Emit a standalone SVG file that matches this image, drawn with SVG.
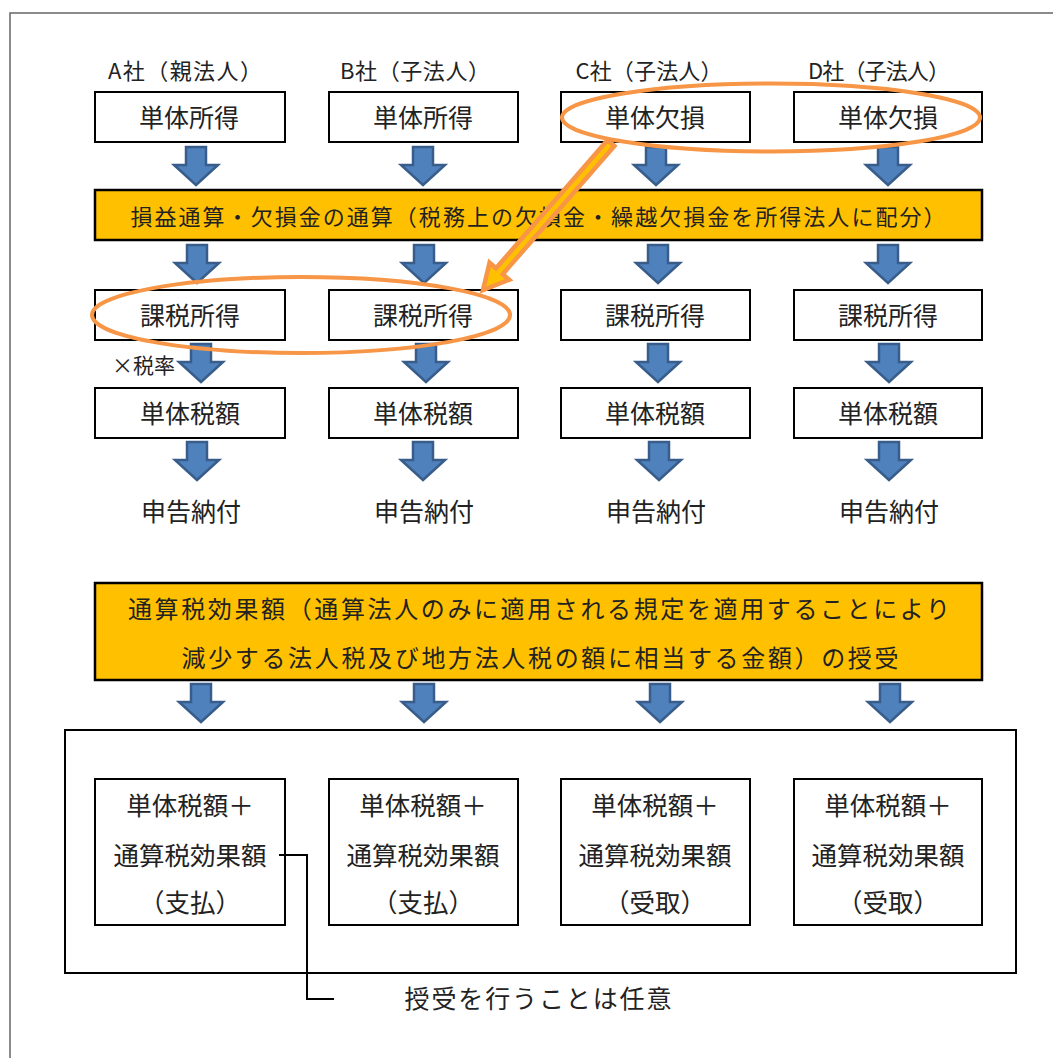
<svg xmlns="http://www.w3.org/2000/svg" xmlns:xlink="http://www.w3.org/1999/xlink" width="1053" height="1058" viewBox="0 0 1053 1058">
<style>
text{font-family:"Noto Sans CJK JP","Noto Sans",sans-serif;fill:#222;dominant-baseline:central;text-anchor:middle}
.box{fill:#fff;stroke:#000;stroke-width:2}
.bar{fill:#ffc000;stroke:#000;stroke-width:2.5}
.arr{fill:#4f81bd;stroke:#385d8a;stroke-width:2.5;stroke-linejoin:miter}
.ring{fill:none;stroke:#f79646;stroke-width:4}
.lbl{font-size:22px}
.bt{font-size:25px}
.lt{font-size:25.5px}
</style>
<defs>
<path id="arr" d="M-10,0 h20 v18 h12 l-22,20 l-22,-20 h12 z"/>
</defs>
<rect width="1053" height="1058" fill="#fff"/>
<path d="M10,1058 V13 H1053" fill="none" stroke="#666" stroke-width="1.5"/>

<g id="labels">
<text class="lbl" x="185" y="69" textLength="154" lengthAdjust="spacing">A社（親法人）</text>
<text class="lbl" x="415" y="69" textLength="150" lengthAdjust="spacing">B社（子法人）</text>
<text class="lbl" x="649" y="69" textLength="147" lengthAdjust="spacing">C社（子法人）</text>
<text class="lbl" x="879" y="69" textLength="142" lengthAdjust="spacing">D社（子法人）</text>
</g>

<g id="nodeA1"><rect class="box" x="95" y="92" width="190" height="50"/><text class="bt" x="189" y="116">単体所得</text></g>
<g id="nodeB1"><rect class="box" x="329" y="92" width="189" height="50"/><text class="bt" x="423" y="116">単体所得</text></g>
<g id="nodeC1"><rect class="box" x="561" y="92" width="189" height="50"/><text class="bt" x="655" y="116">単体欠損</text></g>
<g id="nodeD1"><rect class="box" x="794" y="92" width="188" height="50"/><text class="bt" x="888" y="116">単体欠損</text></g>

<g id="bar1"><rect class="bar" x="95" y="190" width="887" height="50"/><text style="font-size:22px" x="538" y="215" textLength="815" lengthAdjust="spacing">損益通算・欠損金の通算（税務上の欠損金・繰越欠損金を所得法人に配分）</text></g>

<g id="nodeA2"><rect class="box" x="95" y="290" width="190" height="50"/><text class="bt" x="190" y="314">課税所得</text></g>
<g id="nodeB2"><rect class="box" x="329" y="290" width="189" height="50"/><text class="bt" x="423" y="314">課税所得</text></g>
<g id="nodeC2"><rect class="box" x="561" y="290" width="189" height="50"/><text class="bt" x="655" y="314">課税所得</text></g>
<g id="nodeD2"><rect class="box" x="794" y="290" width="188" height="50"/><text class="bt" x="888" y="314">課税所得</text></g>

<g id="nodeA3"><rect class="box" x="95" y="388" width="190" height="50"/><text class="bt" x="190" y="412">単体税額</text></g>
<g id="nodeB3"><rect class="box" x="329" y="388" width="189" height="50"/><text class="bt" x="423" y="412">単体税額</text></g>
<g id="nodeC3"><rect class="box" x="561" y="388" width="189" height="50"/><text class="bt" x="655" y="412">単体税額</text></g>
<g id="nodeD3"><rect class="box" x="794" y="388" width="188" height="50"/><text class="bt" x="888" y="412">単体税額</text></g>

<g id="nodeA4"><text class="bt" x="191" y="510">申告納付</text></g>
<g id="nodeB4"><text class="bt" x="424" y="510">申告納付</text></g>
<g id="nodeC4"><text class="bt" x="656" y="510">申告納付</text></g>
<g id="nodeD4"><text class="bt" x="889" y="510">申告納付</text></g>

<g id="bar2"><rect class="bar" x="95" y="583" width="887" height="97"/>
<text style="font-size:24px" x="539" y="607" textLength="822" lengthAdjust="spacing">通算税効果額（通算法人のみに適用される規定を適用することにより</text>
<text style="font-size:24px" x="540" y="656" textLength="717" lengthAdjust="spacing">減少する法人税及び地方法人税の額に相当する金額）の授受</text>
</g>

<g id="container"><rect class="box" x="65" y="730" width="951" height="243"/></g>

<g id="nodeA5"><rect class="box" x="95" y="779" width="190" height="146"/>
<text class="lt" x="190" y="803">単体税額＋</text><text class="lt" x="190" y="853">通算税効果額</text><text class="lt" x="190" y="900">（支払）</text></g>
<g id="nodeB5"><rect class="box" x="329" y="779" width="189" height="146"/>
<text class="lt" x="423" y="803">単体税額＋</text><text class="lt" x="423" y="853">通算税効果額</text><text class="lt" x="423" y="900">（支払）</text></g>
<g id="nodeC5"><rect class="box" x="561" y="779" width="189" height="146"/>
<text class="lt" x="655" y="803">単体税額＋</text><text class="lt" x="655" y="853">通算税効果額</text><text class="lt" x="655" y="900">（受取）</text></g>
<g id="nodeD5"><rect class="box" x="794" y="779" width="188" height="146"/>
<text class="lt" x="888" y="803">単体税額＋</text><text class="lt" x="888" y="853">通算税効果額</text><text class="lt" x="888" y="900">（受取）</text></g>

<g id="note"><text class="bt" x="538" y="997" textLength="267" lengthAdjust="spacing">授受を行うことは任意</text></g>
<g id="rate"><text style="font-size:21px;text-anchor:start" x="112" y="364">×税率</text></g>

<g id="connectors">
<g class="arr">
<use href="#arr" x="196" y="147"/><use href="#arr" x="423" y="147"/><use href="#arr" x="656" y="147"/><use href="#arr" x="888" y="147"/>
<use href="#arr" x="197" y="245"/><use href="#arr" x="424" y="245"/><use href="#arr" x="658" y="245"/><use href="#arr" x="888" y="245"/>
<use href="#arr" x="201" y="344"/><use href="#arr" x="426" y="344"/><use href="#arr" x="658" y="344"/><use href="#arr" x="889" y="344"/>
<use href="#arr" x="197" y="442"/><use href="#arr" x="423" y="442"/><use href="#arr" x="659" y="442"/><use href="#arr" x="889" y="442"/>
<use href="#arr" x="201" y="684"/><use href="#arr" x="424" y="684"/><use href="#arr" x="660" y="684"/><use href="#arr" x="890" y="684"/>
</g>
<path d="M279,855 H307 V999 H334" fill="none" stroke="#000" stroke-width="2"/>
<ellipse class="ring" cx="771" cy="117.5" rx="209" ry="34"/>
<ellipse class="ring" cx="301" cy="315" rx="209" ry="38"/>
<polygon transform="translate(611,143) rotate(131.04)" points="0,-4.5 170,-4.5 170,-13 195,0 170,13 170,4.5 0,4.5" fill="#ffc000" stroke="#f79646" stroke-width="4.5" stroke-linejoin="miter"/>
</g>
</svg>
